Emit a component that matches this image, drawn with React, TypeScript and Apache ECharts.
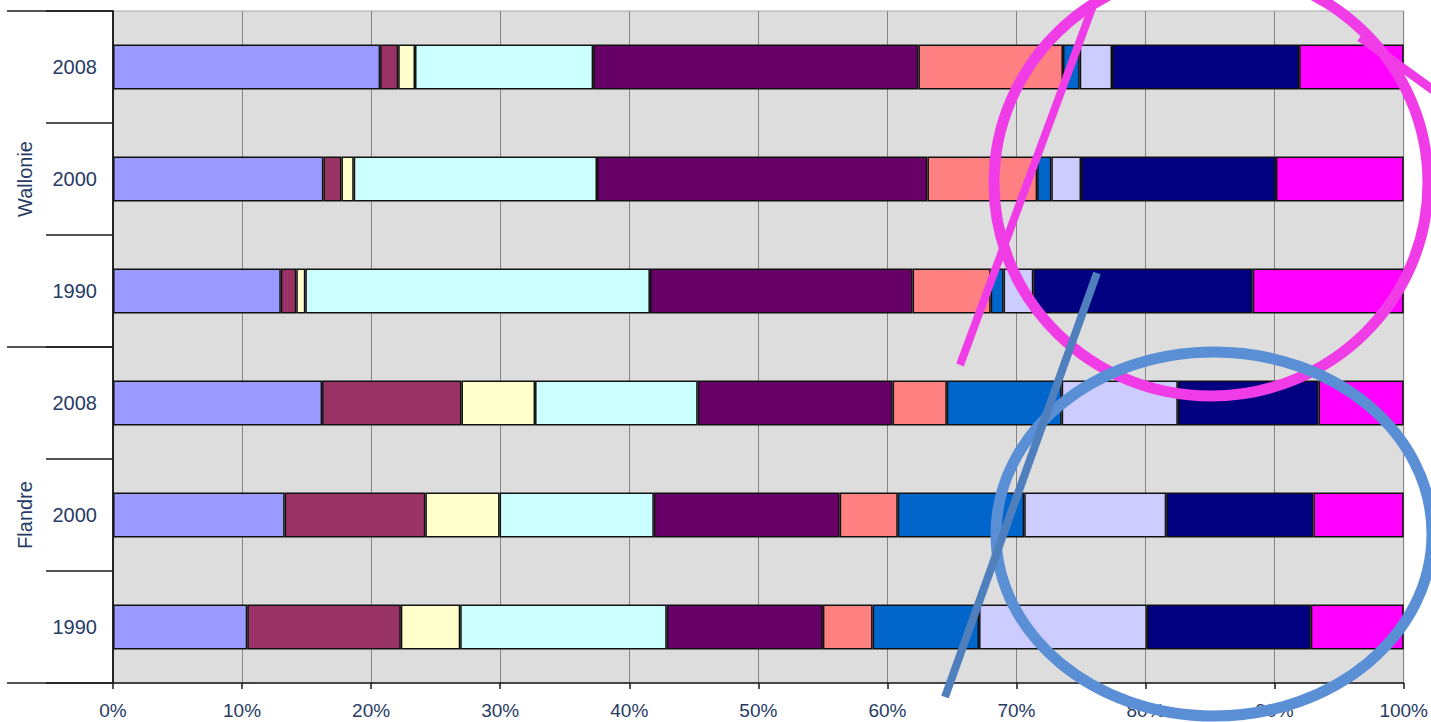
import React, { useEffect, useRef } from 'react';
import * as echarts from 'echarts';

// Categories (bottom to top on the axis)
const regions = ['Flandre', 'Wallonie'];
const years = ['1990', '2000', '2008'];

// Segment shares (%) per series, in order:
// Flandre 1990, Flandre 2000, Flandre 2008, Wallonie 1990, Wallonie 2000, Wallonie 2008
const s1 = [10.4, 13.3, 16.2, 13.0, 16.3, 20.7];
const s2 = [11.9, 10.9, 10.8, 1.2, 1.4, 1.4];
const s3 = [4.6, 5.75, 5.7, 0.7, 0.95, 1.3];
const s4 = [16.0, 11.95, 12.6, 26.7, 18.85, 13.8];
const s5 = [12.1, 14.4, 15.1, 20.35, 25.6, 25.2];
const s6 = [3.85, 4.5, 4.2, 6.05, 8.5, 11.2];
const s7 = [8.25, 9.8, 8.9, 1.0, 1.1, 1.3];
const s8 = [13.0, 11.0, 9.0, 2.3, 2.3, 2.5];
const s9 = [12.7, 11.4, 10.9, 17.0, 15.1, 14.5];
const s10 = [7.2, 7.0, 6.6, 11.7, 9.9, 8.1];

const seriesValues = [s1, s2, s3, s4, s5, s6, s7, s8, s9, s10];
const seriesNames = ['Série 1', 'Série 2', 'Série 3', 'Série 4', 'Série 5', 'Série 6', 'Série 7', 'Série 8', 'Série 9', 'Série 10'];
const seriesColors = ['#9999ff', '#993366', '#ffffcc', '#ccffff', '#660066', '#ff8080', '#0066cc', '#ccccff', '#000080', '#ff00ff'];

const TEXT = '#263b64';
const FONT = '"Liberation Sans", Arial, sans-serif';

export default function App() {
  const ref = useRef<HTMLDivElement>(null);

  useEffect(() => {
    if (!ref.current) return;
    const chart = echarts.init(ref.current, null, { renderer: 'svg' });

    const categories: string[] = [];
    regions.forEach((r) => years.forEach((y) => categories.push(r + '|' + y)));

    const option: any = {
      animation: false,
      backgroundColor: '#ffffff',
      textStyle: { fontFamily: FONT },
      grid: {
        left: 113,
        right: 26,
        top: 11,
        bottom: 39,
        show: true,
        backgroundColor: '#dddddd',
        borderColor: '#a8a8a8',
        borderWidth: 1,
      },
      xAxis: {
        type: 'value',
        min: 0,
        max: 100,
        interval: 10,
        axisLine: { show: true, lineStyle: { color: '#1a1a1a', width: 1.5 } },
        axisTick: { show: true, length: 6, lineStyle: { color: '#1a1a1a', width: 1.5 } },
        splitLine: { show: true, lineStyle: { color: '#858585', width: 1 } },
        axisLabel: {
          formatter: '{value}%',
          color: TEXT,
          fontSize: 19,
          fontFamily: FONT,
          margin: 18,
        },
      },
      yAxis: [
        {
          type: 'category',
          data: categories,
          position: 'left',
          axisLine: { show: true, lineStyle: { color: '#1a1a1a', width: 1.5 } },
          axisTick: { show: true, length: 67, lineStyle: { color: '#1a1a1a', width: 1.5 } },
          splitLine: { show: false },
          axisLabel: {
            formatter: (v: string) => v.split('|')[1],
            color: TEXT,
            fontSize: 20,
            fontFamily: FONT,
            margin: 16,
          },
        },
        {
          type: 'category',
          data: regions,
          position: 'left',
          axisLine: { show: true, lineStyle: { color: '#1a1a1a', width: 1.5 } },
          axisTick: { show: true, length: 106, lineStyle: { color: '#1a1a1a', width: 1.5 } },
          splitLine: { show: false },
          axisLabel: {
            rotate: 90,
            color: TEXT,
            fontSize: 20,
            fontFamily: FONT,
            margin: 78,
          },
        },
      ],
      series: seriesValues.map((vals, i) => ({
        name: seriesNames[i],
        type: 'bar',
        stack: 'total',
        yAxisIndex: 0,
        barWidth: '40%',
        data: vals,
        itemStyle: {
          color: seriesColors[i],
          borderColor: '#111111',
          borderWidth: 1.5,
        },
      })),
      graphic: [
        {
          type: 'ellipse',
          z: 100,
          silent: true,
          shape: { cx: 1211, cy: 183, rx: 217, ry: 213 },
          style: { fill: 'none', stroke: '#f03ce6', lineWidth: 11 },
        },
        {
          type: 'line',
          z: 100,
          silent: true,
          shape: { x1: 960, y1: 365, x2: 1095, y2: 0 },
          style: { stroke: '#f03ce6', lineWidth: 8 },
        },
        {
          type: 'line',
          z: 100,
          silent: true,
          shape: { x1: 1360, y1: 37, x2: 1440, y2: 95 },
          style: { stroke: '#f03ce6', lineWidth: 9 },
        },
        {
          type: 'ellipse',
          z: 101,
          silent: true,
          shape: { cx: 1214, cy: 534, rx: 218, ry: 182 },
          style: { fill: 'none', stroke: '#5a8fd6', lineWidth: 11 },
        },
        {
          type: 'line',
          z: 102,
          silent: true,
          shape: { x1: 1097, y1: 273, x2: 945, y2: 697 },
          style: { stroke: '#4f7fbd', lineWidth: 8 },
        },
      ],
    };

    chart.setOption(option);
    return () => {
      chart.dispose();
    };
  }, []);

  return (
    <div
      ref={ref}
      style={{ position: 'absolute', left: 0, top: 0, width: 1431, height: 722 }}
    />
  );
}
